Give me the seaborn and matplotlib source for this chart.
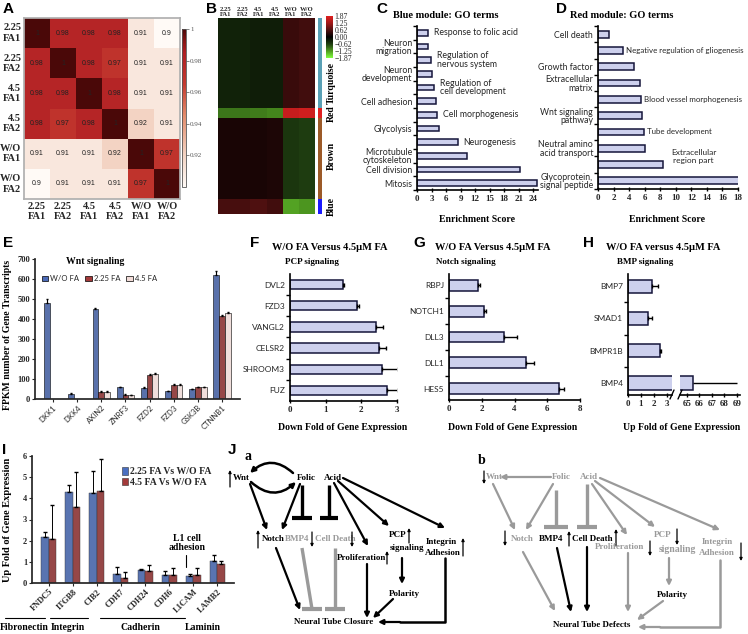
import numpy as np
import pandas as pd
import matplotlib
matplotlib.use('Agg')
import matplotlib.pyplot as plt
import seaborn as sns
from matplotlib.colors import LinearSegmentedColormap, ListedColormap
from matplotlib.patches import Patch

sns.set_theme(style='ticks')
SERIF = ['Liberation Serif', 'DejaVu Sans']
SANS = ['Lato', 'DejaVu Sans']
ARIAL = ['Liberation Sans', 'DejaVu Sans']
plt.rcParams['font.family'] = SERIF

# ---------------- data ----------------
samples = ['2.25\nFA1', '2.25\nFA2', '4.5\nFA1', '4.5\nFA2', 'W/O\nFA1', 'W/O\nFA2']
corr_225_fa1 = [1, 0.98, 0.98, 0.98, 0.91, 0.90]
corr_225_fa2 = [0.98, 1, 0.98, 0.97, 0.91, 0.91]
corr_45_fa1 = [0.98, 0.98, 1, 0.98, 0.91, 0.91]
corr_45_fa2 = [0.98, 0.97, 0.98, 1, 0.92, 0.91]
corr_wo_fa1 = [0.91, 0.91, 0.91, 0.92, 1, 0.97]
corr_wo_fa2 = [0.90, 0.91, 0.91, 0.91, 0.97, 1]

# module heatmap (B): mean scaled expression per sample, and rows per module
modules = ['Turquoise', 'Red', 'Brown', 'Blue']
module_colors = ['#5aa0b5', '#e02020', '#9c5a28', '#1a1aff']
module_rows = [30, 3, 27, 5]
turq_profile = [-0.35, -0.35, -0.30, -0.30, 0.45, 0.50]
red_profile = [-1.00, -1.00, -1.05, -1.10, 1.60, 1.70]
brown_profile = [0.20, 0.20, 0.20, 0.22, -0.55, -0.60]
blue_profile = [0.55, 0.55, 0.60, 0.50, -1.30, -1.20]
b_ticks = [1.87, 1.25, 0.62, 0.00, -0.62, -1.25, -1.87]

c_terms = ['Response to folic acid', 'Neuron\nmigration', 'Regulation of\nnervous system',
           'Neuron\ndevelopment', 'Regulation of\ncell development', 'Cell adhesion',
           'Cell morphogenesis', 'Glycolysis', 'Neurogenesis', 'Microtubule\ncytoskeleton',
           'Cell division', 'Mitosis']
c_scores = [2.3, 2.2, 2.9, 3.2, 3.6, 3.9, 4.2, 4.6, 8.5, 10.3, 21.3, 24.8]
c_label_left = [False, True, False, True, False, True, False, True, False, True, True, True]

d_terms = ['Cell death', 'Negative regulation of gliogenesis', 'Growth factor',
           'Extracellular\nmatrix', 'Blood vessel morphogenesis', 'Wnt signaling\npathway',
           'Tube development', 'Neutral amino\nacid transport', 'Extracellular\nregion part',
           'Glycoprotein,\nsignal peptide']
d_scores = [1.45, 3.2, 4.6, 5.4, 5.55, 5.7, 5.95, 6.05, 8.3, 18.6]
d_label_left = [True, False, True, True, False, True, False, True, False, True]

wnt_genes = ['DKK1', 'DKK4', 'AXIN2', 'ZNRF3', 'FZD2', 'FZD3', 'GSK3B', 'CTNNB1']
wnt_groups = ['W/O FA', '2.25 FA', '4.5 FA']
wnt_wo = [480, 25, 448, 58, 55, 38, 48, 620]
wnt_225 = [2, 1, 35, 22, 120, 70, 58, 415]
wnt_45 = [2, 1, 37, 20, 125, 70, 58, 430]
wnt_wo_err = [20, 3, 8, 3, 3, 3, 3, 18]
wnt_225_err = [0, 0, 3, 2, 5, 3, 2, 5]
wnt_45_err = [0, 0, 3, 2, 5, 3, 2, 3]

pcp_genes = ['DVL2', 'FZD3', 'VANGL2', 'CELSR2', 'SHROOM3', 'FUZ']
pcp_fold = [1.48, 1.88, 2.42, 2.50, 2.57, 2.72]
pcp_err = [0.04, 0.06, 0.20, 0.18, 0.45, 0.32]

notch_genes = ['RBPJ', 'NOTCH1', 'DLL3', 'DLL1', 'HES5']
notch_fold = [1.78, 2.12, 3.35, 4.72, 6.70]
notch_err = [0.12, 0.12, 0.80, 0.50, 0.35]

bmp_genes = ['BMP7', 'SMAD1', 'BMPR1B', 'BMP4']
bmp_fold = [1.85, 1.55, 2.50, 65.5]
bmp_err = [0.50, 0.30, 0.08, 3.5]

adh_genes = ['FNDC5', 'ITGB8', 'CIB2', 'CDH7', 'CDH24', 'CDH6', 'L1CAM', 'LAMB2']
adh_groups = ['2.25 FA Vs W/O FA', '4.5 FA Vs W/O FA']
adh_225 = [2.18, 4.32, 4.25, 0.42, 0.63, 0.40, 0.35, 1.03]
adh_45 = [2.10, 3.57, 4.35, 0.25, 0.57, 0.37, 0.37, 0.90]
adh_225_err = [0.24, 0.30, 1.03, 0.33, 0.02, 0.16, 0.07, 0.29]
adh_45_err = [1.58, 1.68, 1.53, 0.27, 0.26, 0.33, 0.35, 0.15]

# ---------------- figure ----------------
W, H = 748, 634
fig = plt.figure(figsize=(W / 100, H / 100), dpi=100)


def pax(x0, y0, x1, y1):
    return fig.add_axes([x0 / W, 1 - y1 / H, (x1 - x0) / W, (y1 - y0) / H])


BAR_FILL = '#c8ccf2'
BAR_EDGE = '#15153a'


def hbar_panel(ax, cats, vals, width):
    sns.barplot(x=vals, y=cats, orient='h', color=BAR_FILL, edgecolor=BAR_EDGE,
                linewidth=1.1, width=width, errorbar=None, ax=ax)
    n = len(cats)
    ax.set_yticks(np.arange(-0.5, n, 1), minor=True)
    ax.tick_params(axis='y', which='major', length=0, labelsize=6.3)
    ax.tick_params(axis='y', which='minor', length=3, width=1, direction='out', color='black')
    ax.tick_params(axis='x', length=3, width=1, direction='inout', labelsize=6.5, pad=2, color='black')
    for lab in ax.get_xticklabels():
        lab.set_fontweight('bold')
        lab.set_family(SERIF)
    sns.despine(ax=ax)
    for s in ['left', 'bottom']:
        ax.spines[s].set_color('black')
        ax.spines[s].set_linewidth(1.2)
    ax.set_xlabel('')
    ax.set_ylabel('')


def add_hbar_err(ax, errs, cap=1.5):
    for bar, e in zip(ax.containers[0], errs):
        y = bar.get_y() + bar.get_height() / 2
        x = bar.get_width()
        ax.errorbar(x, y, xerr=[[0], [e]], fmt='none', ecolor='black', elinewidth=1,
                    capsize=cap, capthick=1)


# ---- A: correlation heatmap ----
dfA = pd.DataFrame([corr_225_fa1, corr_225_fa2, corr_45_fa1, corr_45_fa2, corr_wo_fa1, corr_wo_fa2],
                   index=samples, columns=samples)
cmapA = LinearSegmentedColormap.from_list('a', [(0, '#fffaf6'), (0.2, '#f3d3c3'), (0.45, '#e38c6c'),
                                               (0.65, '#c43a30'), (0.85, '#b01e22'), (0.92, '#8a1414'),
                                               (1, '#4a0808')])
axA = pax(24, 18, 180, 199)
caxA = pax(182, 29, 186, 187)
sns.heatmap(dfA, ax=axA, cbar_ax=caxA, cmap=cmapA, vmin=0.9, vmax=1.0, annot=True, fmt='g',
            annot_kws=dict(size=5, color='#222222', family=ARIAL))
axA.tick_params(length=0, pad=2)
axA.set_xticklabels(samples, rotation=0, fontsize=7.5, fontweight='bold')
axA.set_yticklabels(samples, rotation=0, fontsize=7.5, fontweight='bold')
for s in axA.spines.values():
    s.set_visible(True)
    s.set_color('#b0b0b0')
cbA = axA.collections[0].colorbar
cbA.set_ticks([0.92, 0.94, 0.96, 0.98, 1.0])
cbA.set_ticklabels(['0.92', '0.94', '0.96', '0.98', '1'])
cbA.outline.set_edgecolor('#555555')
cbA.outline.set_linewidth(0.6)
caxA.tick_params(labelsize=5, colors='#555555', length=2, width=0.5, pad=1)

# ---- B: module heatmap ----
profiles = [turq_profile, red_profile, brown_profile, blue_profile]
matB = np.vstack([np.tile(p, (n, 1)) for p, n in zip(profiles, module_rows)])
cmapB = LinearSegmentedColormap.from_list('b', ['#80ff40', '#4f9a20', '#1f3d10', '#000000',
                                               '#501010', '#a01818', '#e02020'])
axB = pax(218, 18, 315, 214)
caxB = pax(326, 16, 333, 58)
sns.heatmap(matB, ax=axB, cbar_ax=caxB, cmap=cmapB, vmin=-1.87, vmax=1.87,
            xticklabels=samples, yticklabels=False)
axB.xaxis.tick_top()
axB.set_xticklabels(samples, rotation=0, fontsize=4.8, fontweight='bold', linespacing=1.0)
axB.tick_params(length=0, pad=1)
cbB = axB.collections[0].colorbar
cbB.set_ticks(b_ticks)
cbB.set_ticklabels([f'{t:.2f}'.replace('-', '\u2212') for t in b_ticks])
cbB.outline.set_visible(False)
caxB.tick_params(labelsize=5.5, length=0, pad=1)

axM = pax(318, 18, 322, 214)
sns.heatmap(np.repeat(np.arange(len(modules)), module_rows)[:, None], ax=axM,
            cmap=ListedColormap(module_colors), vmin=-0.5, vmax=3.5, cbar=False,
            xticklabels=False, yticklabels=False)

# ---- C: blue module GO ----
axC = pax(417, 26, 538, 190)
hbar_panel(axC, c_terms, c_scores, 0.42)
axC.set_xlim(0, 25)
axC.set_xticks(range(0, 25, 3))
axC.set_yticklabels([t if l else '' for t, l in zip(c_terms, c_label_left)], family=SANS,
                    fontsize=6.3, linespacing=0.95)
for i, (t, v, l) in enumerate(zip(c_terms, c_scores, c_label_left)):
    if not l:
        axC.annotate(t, (v, i), xytext=(4, 0), textcoords='offset points', va='center',
                     ha='left', fontsize=6.3, family=SANS, linespacing=0.95)

# ---- D: red module GO ----
axD = pax(598, 26, 738, 189)
hbar_panel(axD, d_terms, d_scores, 0.42)
axD.set_xlim(0, 18)
axD.set_xticks(range(0, 19, 2))
axD.set_yticklabels([t if l else '' for t, l in zip(d_terms, d_label_left)], family=SANS,
                    fontsize=6.3, linespacing=0.95)
for i, (t, v, l) in enumerate(zip(d_terms, d_scores, d_label_left)):
    if not l:
        if '\n' in t:
            axD.annotate(t, (v, i), xytext=(6, 6), textcoords='offset points', va='center',
                         ha='left', fontsize=6.0, family=SANS, linespacing=1.1,
                         multialignment='center')
        else:
            axD.annotate(t, (v, i), xytext=(2, 0), textcoords='offset points', va='center',
                         ha='left', fontsize=5.7, family=SANS)

# ---- E: Wnt FPKM ----
dfE = pd.DataFrame({'gene': wnt_genes * 3, 'fpkm': wnt_wo + wnt_225 + wnt_45,
                    'group': [g for g in wnt_groups for _ in wnt_genes]})
colE = ['#4c6bb8', '#a33a3a', '#f2dcd8']
axE = pax(35, 259, 240, 399)
sns.barplot(data=dfE, x='gene', y='fpkm', hue='group', palette=colE, edgecolor='black',
            linewidth=0.4, width=0.72, errorbar=None, ax=axE)
for cont, errs in zip(axE.containers, [wnt_wo_err, wnt_225_err, wnt_45_err]):
    for bar, e in zip(cont, errs):
        if e > 0:
            axE.errorbar(bar.get_x() + bar.get_width() / 2, bar.get_height(), yerr=[[0], [e]],
                         fmt='none', ecolor='black', elinewidth=0.8, capsize=1)
axE.set_ylim(0, 700)
axE.set_yticks(range(0, 701, 100))
axE.set_xlabel('')
axE.set_ylabel('')
sns.despine(ax=axE)
axE.tick_params(axis='y', labelsize=6, length=2.5, width=0.8, pad=1)
axE.tick_params(axis='x', labelsize=5.5, length=2.5, width=0.8, pad=1)
for lab in axE.get_yticklabels():
    lab.set_fontweight('bold')
for lab in axE.get_xticklabels():
    lab.set_rotation(45)
    lab.set_ha('right')
    lab.set_rotation_mode('anchor')
    lab.set_family(SANS)
axE.legend(handles=[Patch(fc=c, ec='black', lw=0.5, label=g) for c, g in zip(colE, wnt_groups)],
           ncol=3, loc='center left', bbox_to_anchor=(0.0, 0.86), frameon=False,
           handlelength=0.8, handleheight=0.8, handletextpad=0.3, columnspacing=0.8,
           prop=dict(family=SANS, size=5.5))

# ---- F: PCP ----
axF = pax(290, 274, 397, 401)
hbar_panel(axF, pcp_genes, pcp_fold, 0.45)
add_hbar_err(axF, pcp_err)
axF.set_xlim(0, 3)
axF.set_xticks([0, 1, 2, 3])
axF.set_yticklabels(pcp_genes, family=SANS, fontsize=6)

# ---- G: Notch ----
axG = pax(449, 274, 580, 400)
hbar_panel(axG, notch_genes, notch_fold, 0.42)
add_hbar_err(axG, notch_err)
axG.set_xlim(0, 8)
axG.set_xticks([0, 2, 4, 6, 8])
axG.set_yticklabels(notch_genes, family=SANS, fontsize=6)

# ---- H: BMP (broken axis) ----
axH1 = pax(628, 274, 672, 395)
axH2 = pax(680, 274, 740, 395)
for ax in (axH1, axH2):
    hbar_panel(ax, bmp_genes, bmp_fold, 0.42)
axH1.set_xlim(0, 3.4)
axH1.set_xticks([0, 1, 2, 3])
axH1.set_yticklabels(bmp_genes, family=SANS, fontsize=6)
axH2.set_xlim(64.45, 69.25)
axH2.set_xticks([65, 66, 67, 68, 69])
axH2.spines['left'].set_visible(False)
axH2.tick_params(axis='y', which='both', left=False, labelleft=False)
for bar, e, v in zip(axH1.containers[0], bmp_err, bmp_fold):
    if v < 3.4:
        axH1.errorbar(v, bar.get_y() + bar.get_height() / 2, xerr=[[0], [e]], fmt='none',
                      ecolor='black', elinewidth=1, capsize=1.5)
    else:
        axH2.errorbar(v, bar.get_y() + bar.get_height() / 2, xerr=[[0], [e]], fmt='none',
                      ecolor='black', elinewidth=1, capsize=0, clip_on=False)

# ---- I: adhesion genes ----
dfI = pd.DataFrame({'gene': adh_genes * 2, 'fold': adh_225 + adh_45,
                    'group': [g for g in adh_groups for _ in adh_genes]})
colI = ['#4a6fc0', '#a33a3a']
axI = pax(32, 456, 234, 583)
sns.barplot(data=dfI, x='gene', y='fold', hue='group', palette=colI, edgecolor='#333333',
            linewidth=0.3, width=0.62, errorbar=None, ax=axI)
for cont, errs in zip(axI.containers, [adh_225_err, adh_45_err]):
    for bar, e in zip(cont, errs):
        axI.errorbar(bar.get_x() + bar.get_width() / 2, bar.get_height(), yerr=[[0], [e]],
                     fmt='none', ecolor='black', elinewidth=0.7, capsize=1.2)
axI.set_ylim(0, 6)
axI.set_xlabel('')
axI.set_ylabel('')
sns.despine(ax=axI)
axI.tick_params(axis='y', labelsize=6, length=2.5, width=0.8, pad=1)
axI.tick_params(axis='x', labelsize=6, length=2.5, width=0.8, pad=1)
for lab in axI.get_yticklabels() + axI.get_xticklabels():
    lab.set_fontweight('bold')
for lab in axI.get_xticklabels():
    lab.set_rotation(45)
    lab.set_ha('right')
    lab.set_rotation_mode('anchor')
axI.legend(handles=[Patch(fc=c, ec='#333333', lw=0.4, label=g) for c, g in zip(colI, adh_groups)],
           loc='center left', bbox_to_anchor=(0.4, 0.835), frameon=False, handlelength=0.7,
           handleheight=0.8, handletextpad=0.2, labelspacing=0.15,
           prop=dict(family=SERIF, size=7, weight='bold'))

# ---------------- overlay: letters, labels, pathway diagrams ----------------
ov = fig.add_axes([0, 0, 1, 1], zorder=10)
ov.set_xlim(0, W)
ov.set_ylim(H, 0)
ov.axis('off')
ov.patch.set_alpha(0)


def txt(x, y, s, size=7, weight='bold', family=SERIF, color='black', **kw):
    kw.setdefault('ha', 'center')
    kw.setdefault('va', 'center')
    ov.text(x, y, s, fontsize=size, fontweight=weight, family=family, color=color, **kw)


for letter, (x, y) in {'A': (3, 2), 'B': (206, 2), 'C': (376, 2), 'D': (556, 2), 'E': (3, 236),
                       'F': (250, 236), 'G': (413, 236), 'H': (583, 236), 'I': (2, 443),
                       'J': (228, 443)}.items():
    txt(x, y, letter, size=11, family=ARIAL, ha='left', va='top')

txt(331, 83, 'Turquoise', rotation=90)
txt(331, 114, 'Red', rotation=90)
txt(331, 156, 'Brown', rotation=90)
txt(331, 206, 'Blue', rotation=90)

txt(446, 15, 'Blue module: GO terms', size=7.5)
txt(622, 15, 'Red module: GO terms', size=7.5)
txt(477, 220, 'Enrichment Score', size=7)
txt(667, 220, 'Enrichment Score', size=7)

txt(95, 262, 'Wnt signaling', size=7)
txt(8, 335, 'FPKM number of Gene Transcripts', size=7, rotation=90)
txt(330, 247, 'W/O FA Versus 4.5\u03bcM FA', size=7.5)
txt(312, 262, 'PCP signaling', size=6.5)
txt(343, 428, 'Down Fold of Gene Expression', size=7)
txt(493, 247, 'W/O FA Versus 4.5\u03bcM FA', size=7.5)
txt(466, 262, 'Notch signaling', size=6.5)
txt(513, 428, 'Down Fold of Gene Expression', size=7)
txt(663, 247, 'W/O FA versus 4.5\u03bcM FA', size=7.5)
txt(645, 262, 'BMP signaling', size=6.5)
txt(682, 428, 'Up Fold of Gene Expression', size=7)
# axis break marks
for xb in (670, 678):
    ov.plot([xb, xb + 4], [399, 390], color='black', lw=1)
ov.add_patch(plt.Rectangle((673, 376), 6, 10, fc='white', ec='none', zorder=3))

txt(8, 520, 'Up Fold of Gene Expression', size=7.5, rotation=90)
txt(187, 543, 'L1 cell\nadhesion', size=7, linespacing=1.1)
ov.plot([186, 186], [555, 567], color='black', lw=0.8)
for x0, x1, lab, xl in [(5, 45, 'Fibronectin', 24), (50, 88, 'Integrin', 68),
                        (100, 185, 'Cadherin', 140), (None, None, 'Laminin', 203)]:
    if x0 is not None:
        ov.plot([x0, x1], [618, 618], color='black', lw=0.8)
    txt(xl, 627, lab, size=7)

GRAY = '#9a9a9a'


def arrow(p0, p1, color='black', lw=1.6, ms=7, rad=0.0):
    ov.annotate('', xy=p1, xytext=p0,
                arrowprops=dict(arrowstyle='-|>', color=color, lw=lw, mutation_scale=ms,
                                shrinkA=0, shrinkB=0, connectionstyle=f'arc3,rad={rad}'))


def small(x, y0, y1, color='black'):
    arrow((x, y0), (x, y1), color=color, lw=0.9, ms=4)


def tbar(p0, p1, half, color='black', lw=2.4):
    ov.plot([p0[0], p1[0]], [p0[1], p1[1]], color=color, lw=lw, solid_capstyle='butt')
    ov.plot([p1[0] - half, p1[0] + half], [p1[1], p1[1]], color=color, lw=lw + 0.6,
            solid_capstyle='butt')


# J a
txt(248, 457, 'a', size=10)
small(230, 487, 470)
txt(241, 478, 'Wnt', size=6.5)
txt(306, 478, 'Folic', size=6.5)
txt(333, 478, 'Acid', size=6.5)
arrow((293, 473), (250, 473), rad=0.45, lw=1.8)
arrow((251, 482), (296, 482), rad=0.45, lw=1.8)
arrow((250, 484), (267, 530))
arrow((300, 484), (282, 530))
tbar((302, 485), (302, 518), 10)
tbar((329, 485), (329, 518), 9)
arrow((334, 483), (368, 546))
arrow((338, 481), (389, 526))
arrow((343, 478), (445, 528))
small(258, 548, 530)
txt(273, 539, 'Notch', size=6.5)
txt(297, 539, 'BMP4', size=6.5, color=GRAY)
small(312, 532, 547)
txt(335, 539, 'Cell Death', size=6.5, color=GRAY)
small(352, 532, 547)
txt(362, 558, 'Proliferation', size=6.5)
small(387, 564, 551)
txt(398, 535, 'PCP', size=6.5)
small(409, 543, 528)
txt(407, 548, 'signaling', size=6.5)
txt(441, 542, 'Integrin', size=6.5)
txt(443, 553, 'Adhesion', size=6.5)
small(463, 556, 538)
arrow((402, 558), (402, 584))
txt(404, 594, 'Polarity', size=6.5)
arrow((276, 548), (300, 610))
tbar((302, 548), (312, 609), 10, color=GRAY)
tbar((335, 548), (335, 609), 10, color=GRAY)
arrow((367, 564), (367, 618))
arrow((393, 599), (373, 618))
ov.plot([445, 445, 400], [558, 622, 622], color='black', lw=1.8)
arrow((400, 622), (378, 622))
txt(334, 622, 'Neural Tube Closure', size=6.5)

# J b
txt(482, 460, 'b', size=10)
small(484, 471, 484)
txt(494, 477, 'Wnt', size=6.5, color=GRAY)
arrow((551, 477), (500, 477), color=GRAY)
txt(561, 477, 'Folic', size=6.5, color=GRAY)
txt(589, 477, 'Acid', size=6.5, color=GRAY)
arrow((493, 484), (515, 530), color=GRAY)
arrow((553, 484), (526, 530), color=GRAY)
tbar((556, 490), (556, 527), 12, color=GRAY)
tbar((587, 484), (587, 527), 10, color=GRAY)
arrow((592, 484), (627, 535), color=GRAY)
arrow((595, 481), (655, 527), color=GRAY)
arrow((600, 478), (720, 530), color=GRAY)
small(505, 531, 546)
txt(522, 539, 'Notch', size=6.5, color=GRAY)
txt(551, 539, 'BMP4', size=6.5)
small(569, 546, 531)
txt(592, 539, 'Cell Death', size=6.5)
small(616, 546, 529)
txt(620, 547, 'Proliferation', size=6.5, color=GRAY)
small(650, 541, 556)
txt(663, 535, 'PCP', size=6.5, color=GRAY)
small(677, 529, 545)
txt(677, 549, 'signaling', size=7, color=GRAY)
txt(717, 542, 'Integrin', size=6.5, color=GRAY)
txt(717, 553, 'Adhesion', size=6.5, color=GRAY)
small(741, 543, 561)
arrow((523, 552), (555, 611), color=GRAY)
arrow((557, 548), (571, 612))
arrow((587, 547), (587, 612))
arrow((628, 553), (628, 612), color=GRAY)
arrow((669, 558), (669, 586), color=GRAY)
txt(672, 595, 'Polarity', size=6.5)
arrow((663, 601), (637, 620), color=GRAY)
ov.plot([720, 720, 660], [560, 627, 627], color=GRAY, lw=1.8)
arrow((660, 627), (638, 627), color=GRAY)
txt(592, 625, 'Neural Tube Defects', size=6.5)

fig.savefig('out.png', dpi=100)
